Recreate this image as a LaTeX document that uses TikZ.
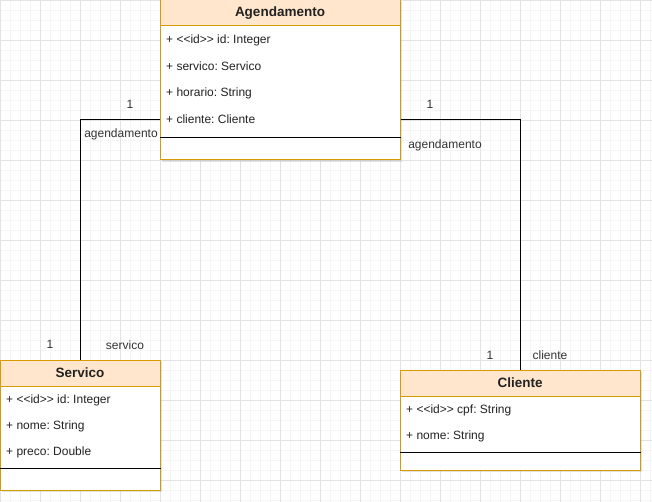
\documentclass[tikz,border=0pt]{standalone}
\usepackage{fontspec}
\setmainfont{Liberation Sans}
\usetikzlibrary{shadows}
\definecolor{hdrfill}{HTML}{FFE6CC}
\definecolor{hdrline}{HTML}{D79B00}
\definecolor{gridminor}{HTML}{F5F5F5}
\definecolor{gridmajor}{HTML}{E3E3E3}
\definecolor{txt}{HTML}{222222}
\definecolor{lbl}{HTML}{333333}
\begin{document}
\frenchspacing
\begin{tikzpicture}[x=1pt,y=-1pt,
  classbox/.style={draw=hdrline, fill=white, line width=1pt, inner sep=0pt,
    drop shadow={opacity=0.22, shadow xshift=2pt, shadow yshift=-2pt}},
  hdr/.style={draw=hdrline, fill=hdrfill, line width=1pt, inner sep=0pt,
    font=\fontsize{13.5}{16}\selectfont\bfseries, text=txt},
  attr/.style={anchor=west, inner sep=0pt, font=\fontsize{12}{14}\selectfont, text=txt},
  sep/.style={draw=black, line width=1pt},
  conn/.style={draw=black, line width=1pt},
  lab/.style={inner sep=0pt, font=\fontsize{12}{14}\selectfont, text=lbl}
]
\useasboundingbox (0,0) rectangle (652,502);
\fill[white] (0,0) rectangle (652,502);
% grid
\foreach \i in {0,10,...,650} \draw[gridminor, line width=0.6pt] (\i,0) -- (\i,502);
\foreach \j in {0,10,...,500} \draw[gridminor, line width=0.6pt] (0,\j) -- (652,\j);
\foreach \i in {0,40,...,640} \draw[gridmajor, line width=0.8pt] (\i,0) -- (\i,502);
\foreach \j in {0,40,...,480} \draw[gridmajor, line width=0.8pt] (0,\j) -- (652,\j);

% connector corners
\coordinate (cornerL) at (80,120);
\coordinate (cornerR) at (520,120);

% Agendamento
\node[classbox, minimum width=240pt, minimum height=160pt] (ag) at (280,80) {};
\node[hdr, minimum width=240pt, minimum height=26pt, anchor=north] (agh) at (ag.north) {Agendamento};
\node[attr] (ag1) at (166,40) {+ <{}<id>{}> id: Integer};
\node[attr] (ag2) at (166,66) {+ servico: Servico};
\node[attr] (ag3) at (166,93) {+ horario: String};
\node[attr] (ag4) at (166,119) {+ cliente: Cliente};
\coordinate (agsep) at (0,138);
\draw[sep] (agsep -| ag.west) -- (agsep -| ag.east);

% Servico
\node[classbox, minimum width=160pt, minimum height=130pt] (sv) at (80,425) {};
\node[hdr, minimum width=160pt, minimum height=26pt, anchor=north] (svh) at (sv.north) {Servico};
\node[attr] (sv1) at (6,400) {+ <{}<id>{}> id: Integer};
\node[attr] (sv2) at (6,426) {+ nome: String};
\node[attr] (sv3) at (6,452) {+ preco: Double};
\coordinate (svsep) at (0,468);
\draw[sep] (svsep -| sv.west) -- (svsep -| sv.east);

% Cliente
\node[classbox, minimum width=240pt, minimum height=100pt] (cl) at (520,420) {};
\node[hdr, minimum width=240pt, minimum height=26pt, anchor=north] (clh) at (cl.north) {Cliente};
\node[attr] (cla1) at (406,410) {+ <{}<id>{}> cpf: String};
\node[attr] (cla2) at (406,436) {+ nome: String};
\coordinate (clsep) at (0,452);
\draw[sep] (clsep -| cl.west) -- (clsep -| cl.east);

% association lines
\draw[conn] (cornerL -| ag.west) -- (cornerL) -- (svh.north);
\draw[conn] (cornerR -| ag.east) -- (cornerR) -- (clh.north);

% labels
\node[lab] (l1) at (130,104) {1};
\node[lab] (l2) at (121,134) {agendamento};
\node[lab] (l3) at (430,104) {1};
\node[lab] (l4) at (445,145) {agendamento};
\node[lab] (l5) at (50,344) {1};
\node[lab] (l6) at (125,345) {servico};
\node[lab] (l7) at (490,355) {1};
\node[lab] (l8) at (550,355) {cliente};
\end{tikzpicture}
\end{document}
